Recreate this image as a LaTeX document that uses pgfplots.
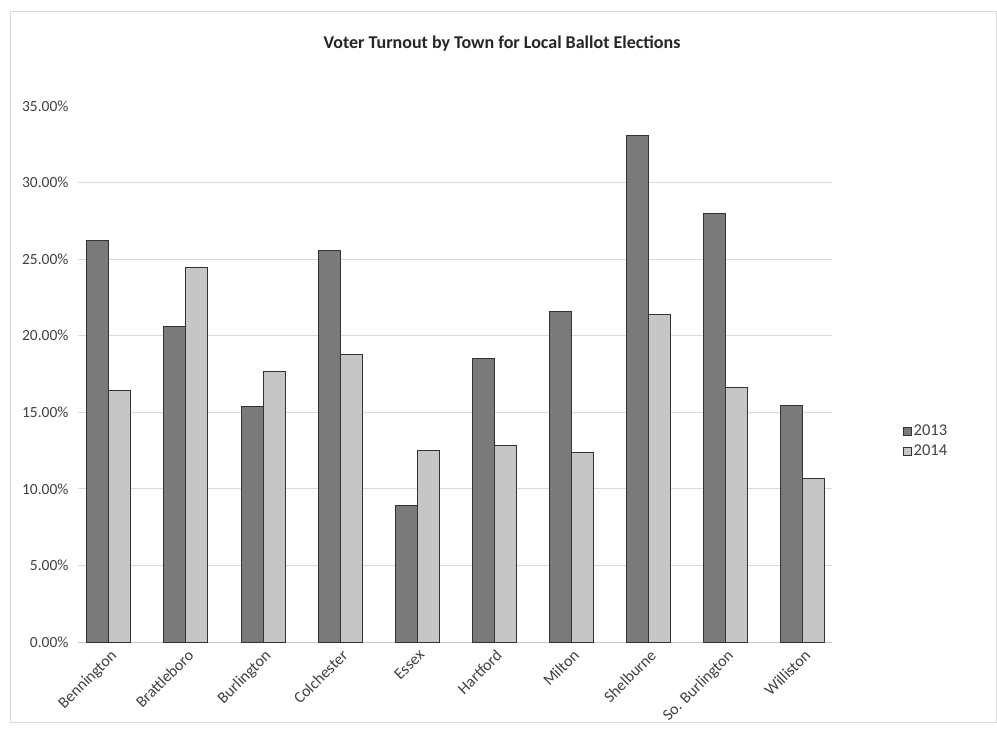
\documentclass[border=0pt]{standalone}
\usepackage{pgfplots}
\pgfplotsset{compat=1.18}
\usepackage{fontspec}
\setmainfont{Carlito}
\definecolor{darkbar}{HTML}{7A7A7A}
\definecolor{lightbar}{HTML}{C6C6C6}
\definecolor{txt}{HTML}{404040}
\definecolor{gridc}{HTML}{D9D9D9}
\begin{document}
\begin{tikzpicture}
\path[use as bounding box] (0pt,0pt) rectangle (997pt,729pt);
\draw[gray!30, line width=0.8pt] (10pt,7pt) rectangle (996pt,718pt);
\node[font=\fontsize{18}{20}\selectfont\bfseries, text=black!85] at (502pt,685pt) {Voter Turnout by Town for Local Ballot Elections};
\begin{axis}[
  at={(78pt,87pt)}, anchor=south west,
  scale only axis, width=754pt, height=536pt,
  ybar=0pt, bar width=22pt,
  xmin=-0.4, xmax=9.38,
  ymin=0, ymax=35,
  ytick={0,5,...,30},
  extra y ticks={35},
  extra y tick style={ymajorgrids=false},
  xtick={0,...,9},
  xticklabels={Bennington,Brattleboro,Burlington,Colchester,Essex,Hartford,Milton,Shelburne,So. Burlington,Williston},
  x tick label style={rotate=45, anchor=north east, font=\fontsize{16}{17}\selectfont, text=txt, inner sep=1pt, yshift=-4pt, xshift=-3pt},
  y tick label style={font=\fontsize{15.5}{17}\selectfont, text=txt},
  /pgf/number format/assume math mode=true,
  yticklabel={\pgfmathprintnumber[fixed,fixed zerofill,precision=2]{\tick}\%},
  axis x line*=bottom, axis y line*=left,
  x axis line style={gridc!80!gray, line width=0.8pt, -},
  y axis line style={draw=none},
  ymajorgrids, grid style={gridc, line width=0.8pt},
  major tick length=0pt,
  yticklabel shift=6pt,
  legend style={draw=none, fill=none, at={(1.09,0.375)}, anchor=west, font=\fontsize{16.5}{18}\selectfont, text=txt, row sep=4pt, legend cell align=left},
  legend image code/.code={\draw[#1, draw=black!80, line width=0.6pt] (0pt,-4pt) rectangle (8pt,4pt);},
]
\addplot[fill=darkbar, draw=black!80, line width=1pt] coordinates {
 (0,26.24) (1,20.58) (2,15.40) (3,25.59) (4,8.94) (5,18.50) (6,21.60) (7,33.07) (8,28.00) (9,15.45)};
\addplot[fill=lightbar, draw=black!80, line width=1pt] coordinates {
 (0,16.45) (1,24.43) (2,17.64) (3,18.80) (4,12.53) (5,12.86) (6,12.40) (7,21.40) (8,16.60) (9,10.70)};
\legend{2013,2014}
\end{axis}
\end{tikzpicture}
\end{document}
